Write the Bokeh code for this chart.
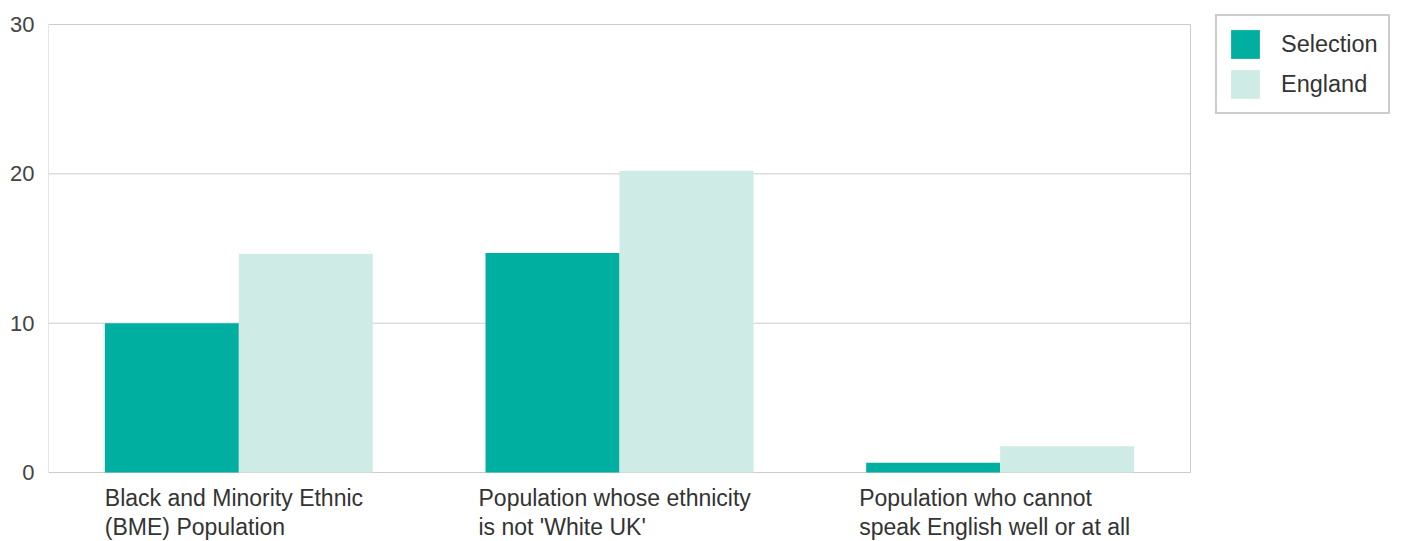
from bokeh.plotting import figure
from bokeh.models import Range1d, Legend, LegendItem, FixedTicker
from bokeh.core.properties import value
from bokeh.embed import file_html
from bokeh.resources import INLINE

categories = ["Black and Minority Ethnic\n(BME) Population",
              "Population whose ethnicity\nis not 'White UK'",
              "Population who cannot\nspeak English well or at all"]
selection = [10.0, 14.7, 0.65]
england = [14.65, 20.2, 1.75]
yticks = [0, 10, 20, 30]

FONT = "Liberation Sans"
n = len(categories)
fw = 1345
xmax = n * fw / 1142
ppu = 448 / 30
p = figure(width=1393, height=541, frame_width=fw, frame_height=533,
           output_backend="svg", toolbar_location=None,
           x_range=Range1d(0, xmax), y_range=Range1d(-69 / ppu, 30 + 16 / ppu),
           min_border_left=48, min_border_right=0, min_border_top=8, min_border_bottom=0)
xs = [i + 0.5 for i in range(n)]
bw = 0.352
r1 = p.vbar(x=[x - bw / 2 for x in xs], top=selection, width=bw, color="#00AFA0", line_color=None)
r2 = p.vbar(x=[x + bw / 2 for x in xs], top=england, width=bw, color="#CFEBE6", line_color=None)

p.segment(x0=[0] * len(yticks), x1=[n] * len(yticks), y0=yticks, y1=yticks,
          line_color="#cccccc", line_width=1, level="underlay")
p.segment(x0=[0, n], x1=[0, n], y0=[0, 0], y1=[30, 30], line_color="#cccccc", line_width=1)

p.xaxis.visible = False
p.grid.visible = False
p.outline_line_color = None
p.yaxis.ticker = FixedTicker(ticks=yticks)
p.yaxis.axis_line_color = None
p.yaxis.major_tick_line_color = None
p.yaxis.minor_tick_line_color = None
p.yaxis.major_label_text_font = FONT
p.yaxis.major_label_text_font_size = "22px"
p.yaxis.major_label_text_color = "#444444"
p.yaxis.major_label_standoff = 8

half_w = [-134, -141, -141]  # pixel offsets to centre the left-aligned blocks
p.text(x=xs, y=[-0.85] * n, text=categories, x_offset=half_w, text_font=value(FONT),
       text_font_size="23px", text_color="#333333", text_baseline="top",
       text_align="left", text_line_height=1.12)

legend = Legend(items=[LegendItem(label="Selection", renderers=[r1]),
                       LegendItem(label="England", renderers=[r2])],
                location=(1167, 427), glyph_width=36, glyph_height=36,
                label_text_font=FONT, label_text_font_size="23.5px",
                label_text_color="#333333", border_line_color="#999999",
                border_line_width=2, padding=10, spacing=4, label_standoff=18,
                margin=0)
p.add_layout(legend)

open("out.html", "w").write(file_html(p, INLINE))
